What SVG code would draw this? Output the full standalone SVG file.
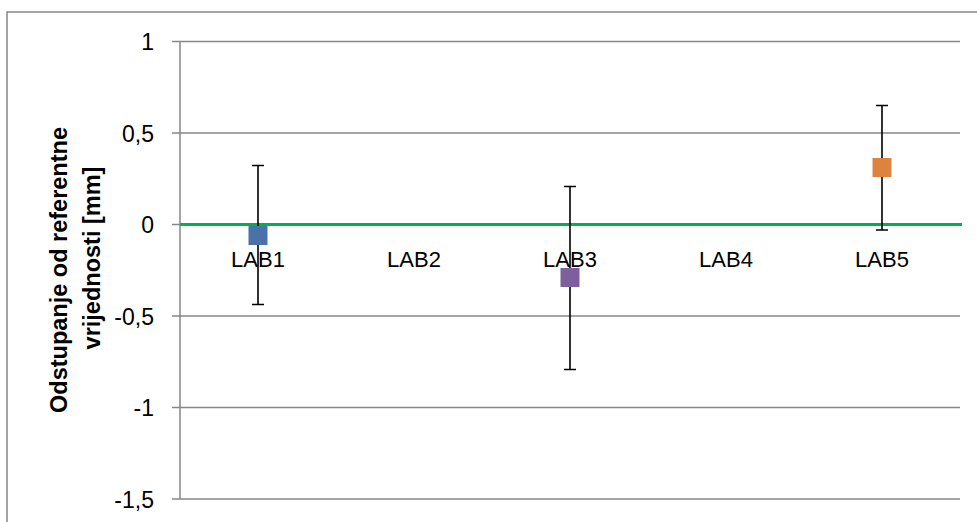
<svg xmlns="http://www.w3.org/2000/svg" width="977" height="522" viewBox="0 0 977 522">
<style>
.grid{stroke:#878787;stroke-width:1.5;fill:none}
.tick{font-family:"Liberation Sans",Arial,sans-serif;font-size:23px;fill:#000;text-anchor:end}
.cat{font-family:"Liberation Sans",Arial,sans-serif;font-size:22px;fill:#000;text-anchor:middle}
.title{font-family:"Liberation Sans",Arial,sans-serif;font-size:23.5px;font-weight:bold;fill:#000;text-anchor:middle}
.err{stroke:#000;stroke-width:1.6;fill:none}
</style>
<rect x="0" y="0" width="977" height="522" fill="#fff"/>
<rect x="7" y="12" width="1000" height="600" fill="#fff" stroke="#878787" stroke-width="1.5"/>
<g id="grid">
<path class="grid" d="M172 41.5H960M172 133H960M172 224.5H180M172 316H960M172 407.5H960M172 499H960M180 41.5V499"/>
</g>
<g id="y-ticks">
<text class="tick" x="154" y="50">1</text>
<text class="tick" x="154" y="141.5">0,5</text>
<text class="tick" x="154" y="233">0</text>
<text class="tick" x="154" y="324.5">-0,5</text>
<text class="tick" x="154" y="416">-1</text>
<text class="tick" x="154" y="507.5">-1,5</text>
</g>
<g id="y-title">
<text class="title" transform="translate(67,270) rotate(-90)">Odstupanje od referentne</text>
<text class="title" transform="translate(100,258) rotate(-90)">vrijednosti [mm]</text>
</g>
<g id="reference-line">
<line x1="180" y1="224.5" x2="962" y2="224.5" stroke="#00B050" stroke-width="3.2"/>
</g>
<g id="LAB1">
<path class="err" d="M258 165.5V304.5M252 165.5H264M252 304.5H264"/>
<rect x="248.5" y="226" width="19" height="19" fill="#4A72A8"/>
</g>
<g id="LAB3">
<path class="err" d="M570 186.5V369.5M564 186.5H576M564 369.5H576"/>
<rect x="560.5" y="268" width="19" height="19" fill="#7E5E9D"/>
</g>
<g id="LAB5">
<path class="err" d="M882 105.5V230M876 105.5H888M876 230H888"/>
<rect x="872.5" y="158" width="19" height="19" fill="#DE8240"/>
</g>
<g id="categories">
<text class="cat" x="258" y="267">LAB1</text>
<text class="cat" x="414" y="267">LAB2</text>
<text class="cat" x="570" y="267">LAB3</text>
<text class="cat" x="726" y="267">LAB4</text>
<text class="cat" x="882" y="267">LAB5</text>
</g>
</svg>
